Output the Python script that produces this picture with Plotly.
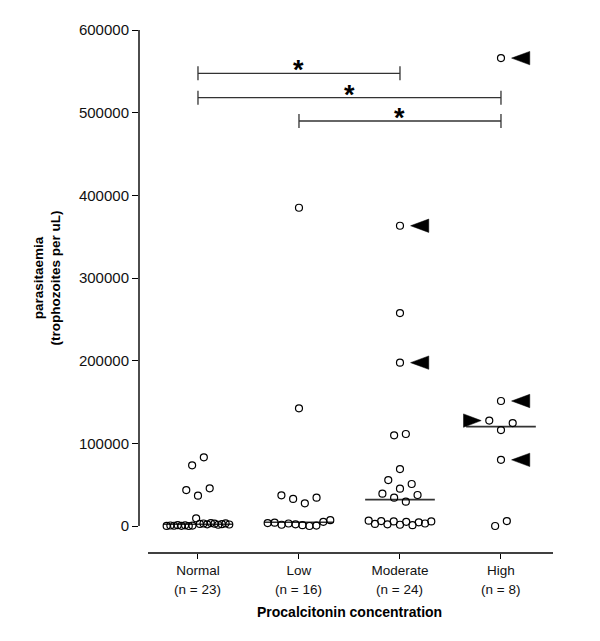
import numpy as np
import plotly.graph_objects as go

# ---------------- data ----------------
categories = ["Normal", "Low", "Moderate", "High"]

normal_vals = [9300, 2500, 500, 3000, 0, 2000, 800, 3500, 200, 2800, 1000, 1500, 300,
               2200, 600, 3200, 100, 1800, 36700, 43500, 45600, 73400, 83100]
low_vals = [385000, 142400, 32700, 27400, 37100, 34300,
            2000, 1000, 3000, 0, 1500, 500, 4000, 5000, 3500, 7000]
moderate_vals = [363200, 257600, 197600, 109700, 111300, 68900, 45100, 55600, 50800,
                 34300, 29400, 39100, 37500,
                 1500, 5500, 5000, 2000, 1000, 6000, 4500, 2500, 3000, 6500, 5500]
high_vals = [566000, 151200, 116000, 127500, 124500, 80000, 0, 6000]

# flagged patients (arrows)
arrow_left_cat = ["Moderate", "Moderate", "High", "High", "High"]
arrow_left_val = [363200, 197600, 566000, 151200, 80000]
arrow_right_cat = ["High"]
arrow_right_val = [127500]

# significance brackets
bracket_from = ["Normal", "Normal", "Low"]
bracket_to = ["Moderate", "High", "High"]
bracket_y = [547600, 518100, 489900]
bracket_label = ["*", "*", "*"]

y_ticks = [0, 100000, 200000, 300000, 400000, 500000, 600000]

groups = [normal_vals, low_vals, moderate_vals, high_vals]

# ---------------- helpers ----------------
FONT = "Liberation Sans, Arial, sans-serif"
INK = "#000000"
LINE = "#333333"


def swarm(vals, H=12500, step=0.116, maxw=0.62):
    vals = np.asarray(vals, float)
    order = np.argsort(vals, kind="stable")
    bins, cur, start = [], [order[0]], vals[order[0]]
    for i in order[1:]:
        if vals[i] - start > H:
            bins.append(cur)
            cur, start = [i], vals[i]
        else:
            cur.append(i)
    bins.append(cur)
    offs = np.zeros(len(vals))
    for b in bins:
        b = sorted(b)
        n = len(b)
        slots = sorted([j - (n - 1) / 2 for j in range(n)], key=lambda s: (abs(s), s))
        sp = step if n < 2 else min(step, maxw / (n - 1))
        for idx, s in zip(b, slots):
            offs[idx] = s * sp
    return offs


fig = go.Figure()

xs_all, ys_all = [], []
pos = {}
for ci, (cat, vals) in enumerate(zip(categories, groups)):
    offs = swarm(vals)
    for v, o in zip(vals, offs):
        xs_all.append(ci + o)
        ys_all.append(v)
        pos.setdefault((cat, v), ci + o)

# median lines
mx, my = [], []
for ci, vals in enumerate(groups):
    m = float(np.median(vals))
    mx += [ci - 0.345, ci + 0.345, None]
    my += [m, m, None]
fig.add_trace(go.Scatter(x=mx, y=my, mode="lines", line=dict(color=LINE, width=1.6),
                         hoverinfo="skip", showlegend=False))

fig.add_trace(go.Scatter(x=xs_all, y=ys_all, mode="markers",
                         marker=dict(symbol="circle-open", size=7, color=INK,
                                     line=dict(width=1.2, color=INK)),
                         showlegend=False, cliponaxis=False))

# arrows (filled triangles)
half_h = 8100
ax, ay = [], []
for cat, v in zip(arrow_left_cat, arrow_left_val):
    x0 = pos[(cat, v)]
    ax += [x0 + 0.105, x0 + 0.285, x0 + 0.285, x0 + 0.105, None]
    ay += [v, v + half_h, v - half_h, v, None]
for cat, v in zip(arrow_right_cat, arrow_right_val):
    x0 = pos[(cat, v)]
    ax += [x0 - 0.08, x0 - 0.255, x0 - 0.255, x0 - 0.08, None]
    ay += [v, v + half_h, v - half_h, v, None]
fig.add_trace(go.Scatter(x=ax, y=ay, mode="lines", fill="toself", fillcolor=INK,
                         line=dict(color=INK, width=0.5), hoverinfo="skip",
                         showlegend=False))

# brackets
shapes = []
annotations = []
tick_h = 8500
for f, t, yv, lab in zip(bracket_from, bracket_to, bracket_y, bracket_label):
    x0, x1 = categories.index(f), categories.index(t)
    shapes.append(dict(type="line", xref="x", yref="y", x0=x0, x1=x1, y0=yv, y1=yv,
                       line=dict(color=LINE, width=1.3)))
    for xx in (x0, x1):
        shapes.append(dict(type="line", xref="x", yref="y", x0=xx, x1=xx,
                           y0=yv - tick_h, y1=yv + tick_h, line=dict(color=LINE, width=1.3)))
    annotations.append(dict(x=(x0 + x1) / 2, y=yv, xref="x", yref="y", text=f"<b>{lab}</b>",
                            showarrow=False, yanchor="middle", yshift=3,
                            font=dict(family=FONT, size=27, color=INK)))

# axis lines (GraphPad style, offset)
shapes.append(dict(type="line", xref="paper", yref="y", x0=0, x1=0, y0=0, y1=600000,
                   line=dict(color=INK, width=1.4)))
shapes.append(dict(type="line", xref="x", yref="paper", x0=-0.495, x1=3.515, y0=0, y1=0,
                   line=dict(color=INK, width=1.4)))

# n labels
for ci, vals in enumerate(groups):
    annotations.append(dict(x=ci, y=0, xref="x", yref="paper", text=f"(n = {len(vals)})",
                            showarrow=False, yanchor="middle", yshift=-36,
                            font=dict(family=FONT, size=13.5, color="#111")))

annotations.append(dict(x=1.5, y=0, xref="x", yref="paper", text="<b>Procalcitonin concentration</b>",
                        showarrow=False, yanchor="middle", yshift=-59,
                        font=dict(family=FONT, size=14, color=INK)))
annotations.append(dict(x=-0.2234, y=300000, xref="paper", yref="y",
                        text="<b>parasitaemia<br>(trophozoites per uL)</b>",
                        showarrow=False, textangle=-90, xanchor="center", yanchor="middle",
                        font=dict(family=FONT, size=13.5, color=INK)))

fig.update_layout(
    width=600, height=641,
    margin=dict(l=131, r=55, t=22, b=96),
    plot_bgcolor="white", paper_bgcolor="white",
    showlegend=False,
    shapes=shapes, annotations=annotations,
    font=dict(family=FONT, size=13.5, color="#111"),
)
fig.update_xaxes(range=[-0.584, 3.515], tickvals=list(range(len(categories))),
                 ticktext=categories, ticks="outside", ticklen=5, tickwidth=1.3,
                 tickcolor=INK, showline=False, showgrid=False, zeroline=False,
                 tickfont=dict(family=FONT, size=13.5, color="#111"))
fig.update_yaxes(range=[-32661, 600000], tickvals=y_ticks, ticktext=[str(v) for v in y_ticks],
                 ticks="outside", ticklen=6, tickwidth=1.3, tickcolor=INK,
                 showline=False, showgrid=False, zeroline=False,
                 tickfont=dict(family=FONT, size=15, color="#111"))

fig.write_html("out.html")
